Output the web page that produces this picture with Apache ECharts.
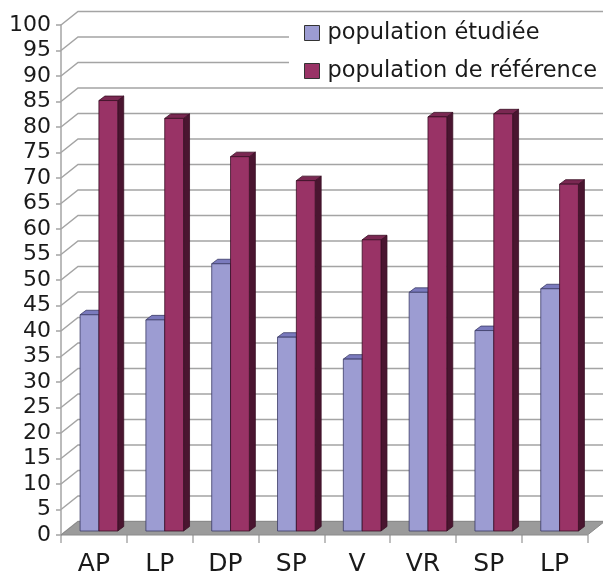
<!DOCTYPE html>
<html>
<head>
<meta charset="utf-8">
<script src="https://cdn.jsdelivr.net/npm/echarts@6/dist/echarts.min.js"></script>
<style>
  html, body { margin: 0; padding: 0; background: #fff; }
  #chart { width: 603px; height: 578px; }
</style>
</head>
<body>
<div id="chart"></div>
<script>
// Categories and values
const categories = ['AP', 'LP', 'DP', 'SP', 'V', 'VR', 'SP', 'LP'];
const studied = [42.4, 41.4, 52.4, 38.0, 33.7, 46.8, 39.3, 47.5];
const reference = [84.4, 80.9, 73.4, 68.7, 57.1, 81.2, 81.8, 68.0];
const seriesNames = ['population étudiée', 'population de référence'];
const yTicks = [0, 5, 10, 15, 20, 25, 30, 35, 40, 45, 50, 55, 60, 65, 70, 75, 80, 85, 90, 95, 100];

// Pseudo-3D look: depth of the back wall and of the bars
const WALL_DX = 17, WALL_DY = -13.5;
const BAR_SHIFT_X = 5, BAR_SHIFT_Y = -4;
const BAR_DX = 6, BAR_DY = -4.5;
const BAR_RATIO = 0.286;
const FONT = 'DejaVu Sans';

const palette = [
  { front: '#9c9cd2', top: '#7a7abd', side: '#5c5c99', edge: '#3a3a66' },
  { front: '#993366', top: '#7a2852', side: '#4a1530', edge: '#3a0f24' }
];

function wallRender(params, api) {
  const cs = params.coordSys;
  const y = api.coord([0, api.value(1)])[1];
  const left = cs.x, right = cs.x + cs.width;
  return {
    type: 'polyline',
    shape: { points: [[left, y], [left + WALL_DX, y + WALL_DY], [right + WALL_DX, y + WALL_DY]] },
    style: { stroke: '#a4a4a4', lineWidth: 1.5, fill: null },
    silent: true
  };
}

function floorRender(params, api) {
  const cs = params.coordSys;
  const y = api.coord([0, 0])[1];
  const left = cs.x, right = cs.x + cs.width;
  return {
    type: 'polygon',
    shape: { points: [[left, y], [right, y], [right + WALL_DX, y + WALL_DY], [left + WALL_DX, y + WALL_DY]] },
    style: { fill: '#9b9b9b', stroke: '#8a8a8a', lineWidth: 1 },
    silent: true
  };
}

function makeBarRender(k) {
  const c = palette[k];
  return function (params, api) {
    const idx = api.value(0);
    const v = api.value(1);
    const base = api.coord([idx, 0]);
    const top = api.coord([idx, v]);
    const band = api.size([1, 0])[0];
    const w = band * BAR_RATIO;
    const cx = base[0] + BAR_SHIFT_X;
    const x0 = k === 0 ? cx - w : cx;
    const yb = base[1] + BAR_SHIFT_Y;
    const yt = top[1] + BAR_SHIFT_Y;
    const x1 = x0 + w;
    return {
      type: 'group',
      children: [
        {
          type: 'polygon',
          shape: { points: [[x1, yt], [x1 + BAR_DX, yt + BAR_DY], [x1 + BAR_DX, yb + BAR_DY], [x1, yb]] },
          style: { fill: c.side, stroke: c.edge, lineWidth: 0.8 }
        },
        {
          type: 'polygon',
          shape: { points: [[x0, yt], [x1, yt], [x1 + BAR_DX, yt + BAR_DY], [x0 + BAR_DX, yt + BAR_DY]] },
          style: { fill: c.top, stroke: c.edge, lineWidth: 0.8 }
        },
        {
          type: 'rect',
          shape: { x: x0, y: yt, width: w, height: yb - yt },
          style: { fill: c.front, stroke: c.edge, lineWidth: 0.8 }
        }
      ]
    };
  };
}

const chart = echarts.init(document.getElementById('chart'), null, { renderer: 'canvas' });
chart.setOption({
  animation: false,
  backgroundColor: '#ffffff',
  grid: { left: 61, right: 15.5, top: 25, bottom: 43, containLabel: false },
  legend: {
    data: seriesNames,
    orient: 'vertical',
    left: 289,
    top: 14,
    padding: [7, 20, 3, 15],
    backgroundColor: '#ffffff',
    itemWidth: 15,
    itemHeight: 15,
    itemGap: 14,
    icon: 'rect',
    itemStyle: { borderColor: '#333333', borderWidth: 1 },
    textStyle: { fontFamily: FONT, fontSize: 22.5, color: '#1a1a1a', lineHeight: 24, padding: [0, 0, 0, 3] }
  },
  xAxis: {
    type: 'category',
    data: categories,
    boundaryGap: true,
    axisLine: { show: false },
    axisTick: { show: true, length: 8, lineStyle: { color: '#aaaaaa', width: 1.5 } },
    axisLabel: { fontFamily: FONT, fontSize: 25, color: '#1a1a1a', margin: 17, interval: 0 },
    splitLine: { show: false }
  },
  yAxis: {
    type: 'value',
    min: 0,
    max: 100,
    interval: 5,
    axisLine: { show: true, lineStyle: { color: '#a4a4a4', width: 1.5 } },
    axisTick: { show: true, length: 5, lineStyle: { color: '#a4a4a4', width: 1.5 } },
    axisLabel: { fontFamily: FONT, fontSize: 22, color: '#1a1a1a', margin: 10 },
    splitLine: { show: false }
  },
  series: [
    {
      type: 'custom',
      name: 'wall',
      renderItem: wallRender,
      data: yTicks.map(v => [0, v]),
      encode: { x: 0, y: 1 },
      z: 1,
      silent: true
    },
    {
      type: 'custom',
      name: 'floor',
      renderItem: floorRender,
      data: [[0, 0]],
      encode: { x: 0, y: 1 },
      z: 2,
      silent: true
    },
    {
      type: 'custom',
      name: seriesNames[0],
      renderItem: makeBarRender(0),
      itemStyle: { color: palette[0].front },
      data: studied.map((v, i) => [i, v]),
      encode: { x: 0, y: 1 },
      z: 3
    },
    {
      type: 'custom',
      name: seriesNames[1],
      renderItem: makeBarRender(1),
      itemStyle: { color: palette[1].front },
      data: reference.map((v, i) => [i, v]),
      encode: { x: 0, y: 1 },
      z: 4
    }
  ]
});
</script>
</body>
</html>
